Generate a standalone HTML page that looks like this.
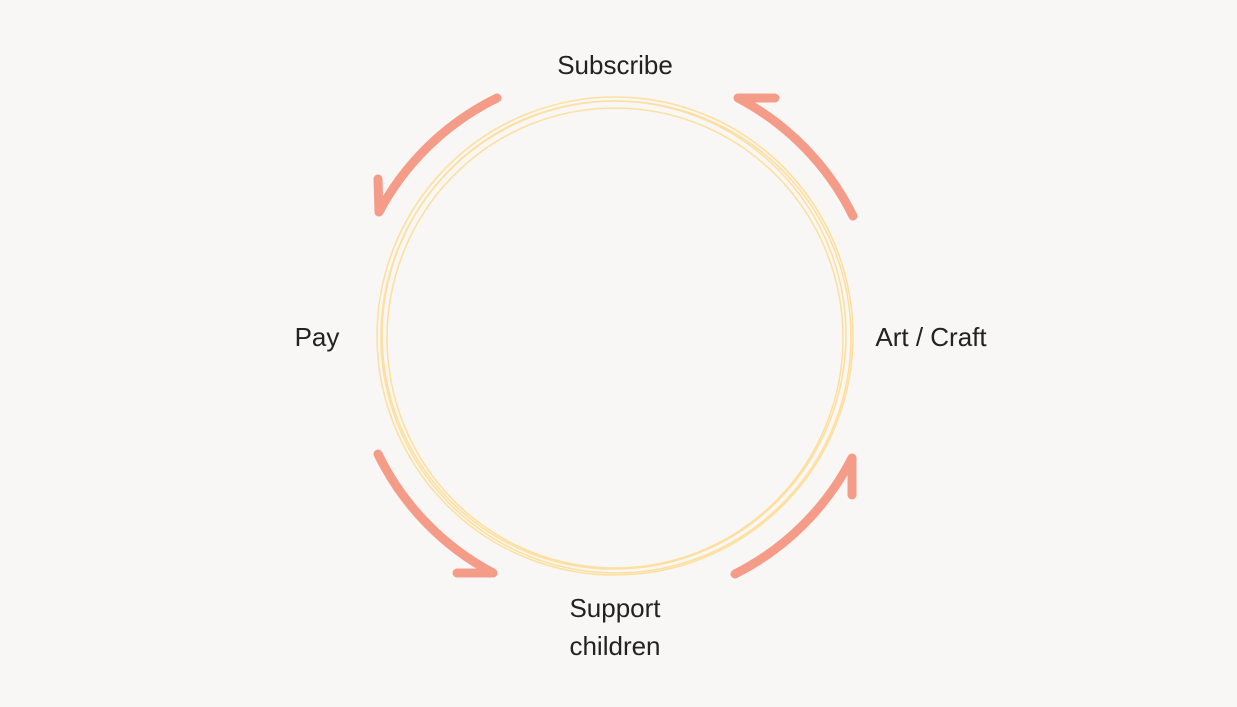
<!DOCTYPE html>
<html><head><style>
body{margin:0;background:#f9f7f5;}
svg{display:block}
text{font-family:"Liberation Sans","DejaVu Sans",sans-serif;font-size:26px;fill:#222;}
</style></head><body>
<svg width="1237" height="707" viewBox="0 0 1237 707">
<rect width="1237" height="707" fill="#f9f7f5"/>
<g fill="none" stroke="#fde0a0" stroke-width="1.6">
<ellipse cx="615" cy="336" rx="238" ry="239"/>
<ellipse cx="616" cy="337" rx="235" ry="236"/>
<ellipse cx="614" cy="335" rx="232" ry="234"/>
<ellipse cx="615" cy="338" rx="228" ry="230"/>
</g>
<g fill="none" stroke="#f49c88" stroke-width="9" stroke-linecap="round" stroke-linejoin="round">
<path d="M497 98 A266 266 0 0 0 379 212 L378 179"/>
<path d="M853 216 A266 266 0 0 0 738 98 L775 98"/>
<path d="M735 574 A266 266 0 0 0 852 458 L852 495"/>
<path d="M378 454 A266 266 0 0 0 493 573 L457 573"/>
</g>
<text x="615" y="74" text-anchor="middle">Subscribe</text>
<text x="317" y="346" text-anchor="middle">Pay</text>
<text x="931" y="346" text-anchor="middle">Art / Craft</text>
<text x="615" y="617" text-anchor="middle">Support</text>
<text x="615" y="655" text-anchor="middle">children</text>
</svg>
</body></html>
